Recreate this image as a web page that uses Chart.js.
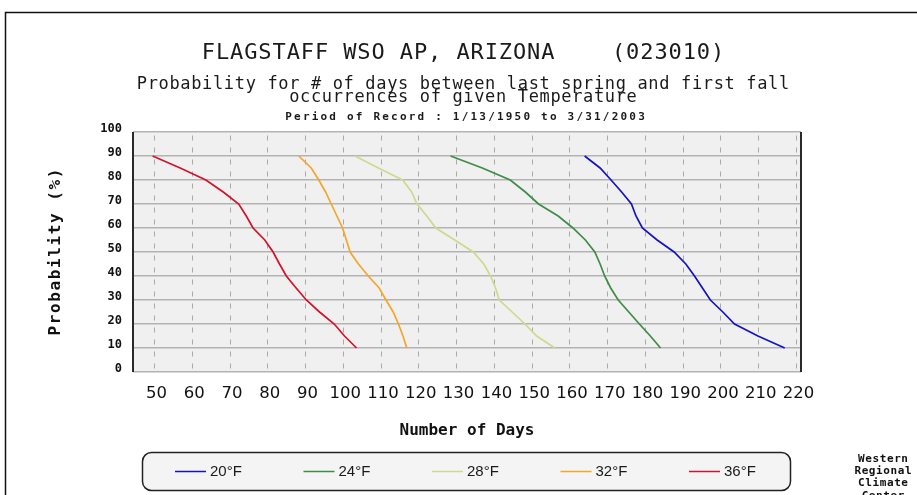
<!DOCTYPE html>
<html>
<head>
<meta charset="utf-8">
<title>Flagstaff WSO AP - growing season probability</title>
<script src="https://cdn.jsdelivr.net/npm/chart.js@4.4.1/dist/chart.umd.min.js"></script>
<style>
  html, body { margin: 0; padding: 0; background: #fff; }
  #wrap { width: 917px; height: 495px; }
</style>
</head>
<body>
<div id="wrap"><canvas id="myChart" width="917" height="495"></canvas></div>
<script>
// probability (%) that the season is at least this many days long
const probabilities = [90, 85, 80, 75, 70, 65, 60, 55, 50, 45, 40, 35, 30, 25, 20, 15, 10];

// number of days between last spring and first fall occurrence
const days20F = [163.9, 168.0, 170.9, 173.7, 176.3, 177.5, 179.2, 183.1, 187.6, 190.7, 193.0, 195.1, 197.2, 200.5, 203.6, 209.8, 216.9];
const days24F = [128.4, 136.8, 144.2, 148.2, 151.7, 156.9, 160.8, 164.1, 166.6, 168.0, 169.2, 170.8, 172.8, 175.6, 178.4, 181.3, 184.0];
const days28F = [103.1, 109.3, 115.7, 118.1, 119.5, 122.1, 124.5, 129.5, 134.4, 137.2, 139.0, 140.3, 141.3, 144.7, 148.1, 151.2, 156.0];
const days32F = [88.2, 91.5, 93.5, 95.3, 96.8, 98.3, 99.8, 100.8, 101.8, 104.0, 106.6, 109.5, 111.3, 113.2, 114.6, 115.8, 116.8];
const days36F = [49.5, 56.8, 63.6, 68.2, 72.3, 74.3, 76.1, 79.2, 81.4, 83.1, 84.9, 87.5, 90.2, 93.7, 97.6, 100.3, 103.5];

const seriesLabels = ["20°F", "24°F", "28°F", "32°F", "36°F"];
const dayTicks = [50, 60, 70, 80, 90, 100, 110, 120, 130, 140, 150, 160, 170, 180, 190, 200, 210, 220];
const probTicks = [0, 10, 20, 30, 40, 50, 60, 70, 80, 90, 100];

const titleLines = [
  "FLAGSTAFF WSO AP, ARIZONA    (023010)",
  "Probability for # of days between last spring and first fall",
  "occurrences of given Temperature",
  "Period of Record : 1/13/1950 to 3/31/2003",
];
const yTitle = "Probability (%)";
const creditLines = ["Western", "Regional", "Climate", "Center"];

const toPoints = (days) => days.map((d, i) => ({ x: d, y: probabilities[i] }));

const datasets = [
  { data: toPoints(days20F), borderColor: "#1414c4" },
  { data: toPoints(days24F), borderColor: "#3f8c46" },
  { data: toPoints(days28F), borderColor: "#cfd98e" },
  { data: toPoints(days32F), borderColor: "#f4a72a" },
  { data: toPoints(days36F), borderColor: "#d0142c" },
].map((ds, i) => ({
  ...ds,
  label: seriesLabels[i],
  borderWidth: 1.7,
  pointRadius: 0,
  tension: 0,
  fill: false,
}));

const monoFont = "'DejaVu Sans Mono', monospace";

// canvas letterSpacing adds space after the last glyph too, so nudge centred text back
const drawText = (ctx, text, x, y, font, spacing) => {
  const sp = spacing || 0;
  ctx.font = font;
  ctx.letterSpacing = sp + "px";
  ctx.fillText(text, ctx.textAlign === "center" ? x + sp / 2 : x, y);
  ctx.letterSpacing = "0px";
};

// plot background, frame, titles, rounded legend and credit
const chartDecor = {
  id: "chartDecor",
  beforeDraw(chart) {
    const { ctx, chartArea: a } = chart;
    ctx.save();
    ctx.fillStyle = "#ffffff";
    ctx.fillRect(0, 0, chart.width, chart.height);
    ctx.fillStyle = "#f0f0f0";
    ctx.fillRect(a.left, a.top, a.right - a.left, a.bottom - a.top);
    ctx.restore();
  },
  afterDraw(chart) {
    const { ctx, chartArea: a } = chart;
    ctx.save();

    // outer frame
    ctx.strokeStyle = "#111";
    ctx.lineWidth = 1.5;
    ctx.strokeRect(5.5, 12.5, chart.width + 10, chart.height + 10);

    // plot frame: dark sides
    ctx.strokeStyle = "#2a2a2a";
    ctx.lineWidth = 2;
    ctx.beginPath();
    ctx.moveTo(a.left, a.top);
    ctx.lineTo(a.left, a.bottom);
    ctx.moveTo(a.right, a.top);
    ctx.lineTo(a.right, a.bottom);
    ctx.stroke();

    // titles
    ctx.fillStyle = "#1a1a1a";
    ctx.textAlign = "center";
    ctx.textBaseline = "alphabetic";
    drawText(ctx, titleLines[0], 463, 59, "22px " + monoFont, 0.9);
    drawText(ctx, titleLines[1], 463, 89, "17px " + monoFont, 0.65);
    drawText(ctx, titleLines[2], 463, 102, "17px " + monoFont, 0.65);
    drawText(ctx, titleLines[3], 465, 120, "bold 11px " + monoFont, 2.2);

    // y axis title, rotated
    ctx.save();
    ctx.translate(56, (a.top + a.bottom) / 2);
    ctx.rotate(-Math.PI / 2);
    ctx.fillStyle = "#111";
    ctx.textBaseline = "middle";
    drawText(ctx, yTitle, 0, 0, "bold 16px " + monoFont, 1.6);
    ctx.restore();

    // legend box
    ctx.fillStyle = "#f4f4f4";
    ctx.strokeStyle = "#222";
    ctx.lineWidth = 1.5;
    ctx.beginPath();
    ctx.roundRect(142.5, 452.5, 648, 38, 9);
    ctx.fill();
    ctx.stroke();

    chart.data.datasets.forEach((ds, i) => {
      const x0 = 175 + i * 128.5;
      ctx.strokeStyle = ds.borderColor;
      ctx.lineWidth = 1.5;
      ctx.beginPath();
      ctx.moveTo(x0, 471.5);
      ctx.lineTo(x0 + 31, 471.5);
      ctx.stroke();
      ctx.fillStyle = "#1a1a1a";
      ctx.textAlign = "left";
      ctx.textBaseline = "middle";
      drawText(ctx, ds.label, x0 + 35, 472, "15px 'Liberation Sans', sans-serif", 0);
    });

    // credit at lower right
    ctx.fillStyle = "#111";
    ctx.textAlign = "center";
    ctx.textBaseline = "middle";
    creditLines.forEach((line, i) => {
      drawText(ctx, line, 883, 459 + i * 12.3, "bold 11px " + monoFont, 0.6);
    });

    ctx.restore();
  },
};

const ctx = document.getElementById("myChart").getContext("2d");

let probChart = new Chart(ctx, {
  type: "line",
  data: { datasets: datasets },
  options: {
    responsive: false,
    animation: false,
    events: [],
    layout: { padding: { top: 132, right: 116, bottom: 0, left: 0 } },
    plugins: {
      legend: { display: false },
      tooltip: { enabled: false },
    },
    scales: {
      x: {
        type: "linear",
        min: 44.3,
        max: 221.2,
        afterBuildTicks: (axis) => {
          axis.ticks = dayTicks.map((v) => ({ value: v }));
        },
        afterFit: (axis) => {
          axis.height = 123;
        },
        grid: { color: "#a9a9a9", lineWidth: 1, drawTicks: false },
        border: { display: false, dash: [5, 7], dashOffset: 8.5 },
        ticks: {
          autoSkip: false,
          maxRotation: 0,
          padding: 12,
          labelOffset: 2,
          color: "#111",
          font: { family: "'DejaVu Sans', sans-serif", size: 16.5 },
        },
        title: {
          display: true,
          text: "Number of Days",
          color: "#111",
          padding: { bottom: 55 },
          font: { family: monoFont, size: 16, weight: "bold" },
        },
      },
      y: {
        min: 0,
        max: 100,
        afterBuildTicks: (axis) => {
          axis.ticks = probTicks.map((v) => ({ value: v }));
        },
        afterFit: (axis) => {
          axis.width = 133;
        },
        grid: { color: "#b3b3b3", lineWidth: 1.5, drawTicks: false },
        border: { display: false },
        ticks: {
          padding: 11,
          labelOffset: -3,
          color: "#111",
          font: { family: monoFont, size: 12, weight: "bold" },
        },
      },
    },
  },
  plugins: [chartDecor],
});
</script>
</body>
</html>
